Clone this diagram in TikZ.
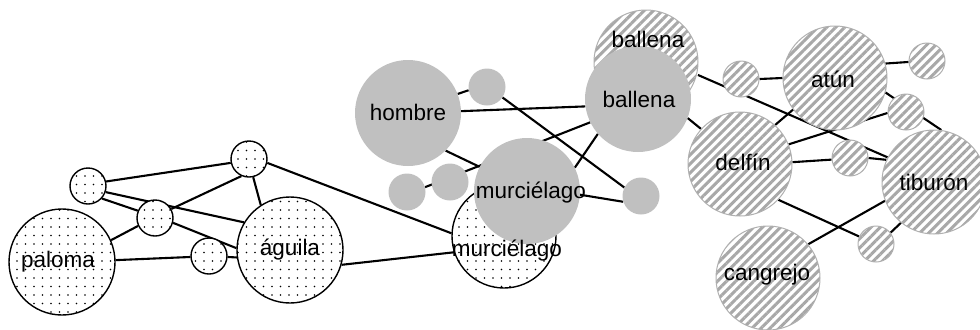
\documentclass[tikz,border=0pt]{standalone}
\usepackage{fontspec}
\setmainfont{Liberation Sans}
\usetikzlibrary{patterns.meta}
\definecolor{nodegray}{HTML}{C0C0C0}
\definecolor{hatchgray}{HTML}{A8A8A8}
\definecolor{rimgray}{HTML}{B0B0B0}
\pgfdeclarelayer{background}
\pgfsetlayers{background,main}
\begin{document}
\begin{tikzpicture}[x=1bp,y=-1bp,
  link/.style={line width=2.1bp, black},
  dotnode/.style={circle, inner sep=0pt, minimum size=#1, draw=black, line width=1.4bp,
    preaction={fill=white}, pattern={Dots[radius=0.85bp,distance=8.5bp]}},
  hatchnode/.style={circle, inner sep=0pt, minimum size=#1, draw=rimgray, line width=1bp,
    preaction={fill=white}, pattern={Lines[angle=45,distance=6.4bp,line width=3bp]}, pattern color=hatchgray},
  graynode/.style={circle, inner sep=0pt, minimum size=#1, fill=nodegray},
  txt/.style={inner sep=0pt, font=\fontsize{22.5bp}{26bp}\selectfont}
]
\useasboundingbox (0,0) rectangle (980,329);

% dotted group
\node[dotnode=106bp] (paloma) at (62,262) {};
\node[dotnode=36bp] (p1) at (88,186) {};
\node[dotnode=36bp] (p2) at (249,159) {};
\node[dotnode=36bp] (p3) at (155,218) {};
\node[dotnode=36bp] (p4) at (209,256) {};
\node[dotnode=106bp] (aguila) at (290,250) {};
\node[dotnode=104bp] (murcD) at (504,236) {};

% hatched group
\node[hatchnode=104bp] (ballH) at (646,62) {};
\node[hatchnode=104bp] (atun) at (835,78) {};
\node[hatchnode=36bp] (h1) at (741,79) {};
\node[hatchnode=36bp] (h2) at (927,61) {};
\node[hatchnode=36bp] (h3) at (906,112) {};
\node[hatchnode=104bp] (delfin) at (740,164) {};
\node[hatchnode=36bp] (h4) at (850,158) {};
\node[hatchnode=104bp] (tib) at (934,182) {};
\node[hatchnode=36bp] (h5) at (876,244) {};
\node[hatchnode=104bp] (cang) at (768,278) {};

% gray group
\node[graynode=106bp] (hombre) at (408,113) {};
\node[graynode=37bp] (g1) at (487,87) {};
\node[graynode=37bp] (g2) at (407,192) {};
\node[graynode=37bp] (g3) at (450,182) {};
\node[graynode=37bp] (g4) at (641,196) {};
\node[graynode=106bp] (murcG) at (527,191) {};
\node[graynode=106bp] (ballG) at (638,99) {};

\begin{pgfonlayer}{background}
\draw[link] (p1.14) -- (p2.192);
\draw[link] (p1.-19) -- (aguila.149);
\draw[link] (p1.-42) -- (p3.157);
\draw[link] (p3.29) -- (p2.246);
\draw[link] (p3.-15) -- (aguila.178);
\draw[link] (paloma.24) -- (p3.205);
\draw[link] (paloma.2) -- (p4.183);
\draw[link] (p4.-3) -- (aguila.188);
\draw[link] (p2.-77) -- (aguila.123);
\draw[link] (p2.-12) -- (murcD.177);
\draw[link] (aguila.-16) -- (murcD.198);

\draw[link] (hombre.21) -- (g1.190);
\draw[link] (hombre.2) -- (ballG.188);
\draw[link] (g1.-34) -- (g4.153);
\draw[link] (hombre.-45) -- (murcG.153);
\draw[link] (g2.15) -- (ballG.206);
\draw[link] (murcG.26) -- (ballG.221);
\draw[link] (murcG.-4) -- (g4.198);
\draw[link] (ballG.-21) -- (delfin.138);

\draw[link] (ballH.-14) -- (tib.152);
\draw[link] (h1.0) -- (atun.180);
\draw[link] (atun.16) -- (h2.183);
\draw[link] (atun.-16) -- (tib.82);
\draw[link] (delfin.22) -- (h3.183);
\draw[link] (delfin.48) -- (atun.217);
\draw[link] (delfin.2) -- (h4.185);
\draw[link] (h4.0) -- (tib.155);
\draw[link] (delfin.-43) -- (h5.156);
\draw[link] (h5.38) -- (tib.231);
\draw[link] (cang.40) -- (tib.201);
\end{pgfonlayer}

% labels
\node[txt] (paloma-t) at (58,262) {paloma};
\node[txt] (aguila-t) at (290,250) {águila};
\node[txt] (murcD-t) at (507,251) {murciélago};
\node[txt] (hombre-t) at (408,112) {hombre};
\node[txt] (murcG-t) at (531,193) {murciélago};
\node[txt] (ballG-t) at (639,99) {ballena};
\node[txt] (ballH-t) at (648,39) {ballena};
\node[txt] (atun-t) at (833,79) {atún};
\node[txt] (delfin-t) at (743,162) {delfín};
\node[txt] (tib-t) at (934,182) {tiburón};
\node[txt] (cang-t) at (767,275) {cangrejo};
\end{tikzpicture}
\end{document}
